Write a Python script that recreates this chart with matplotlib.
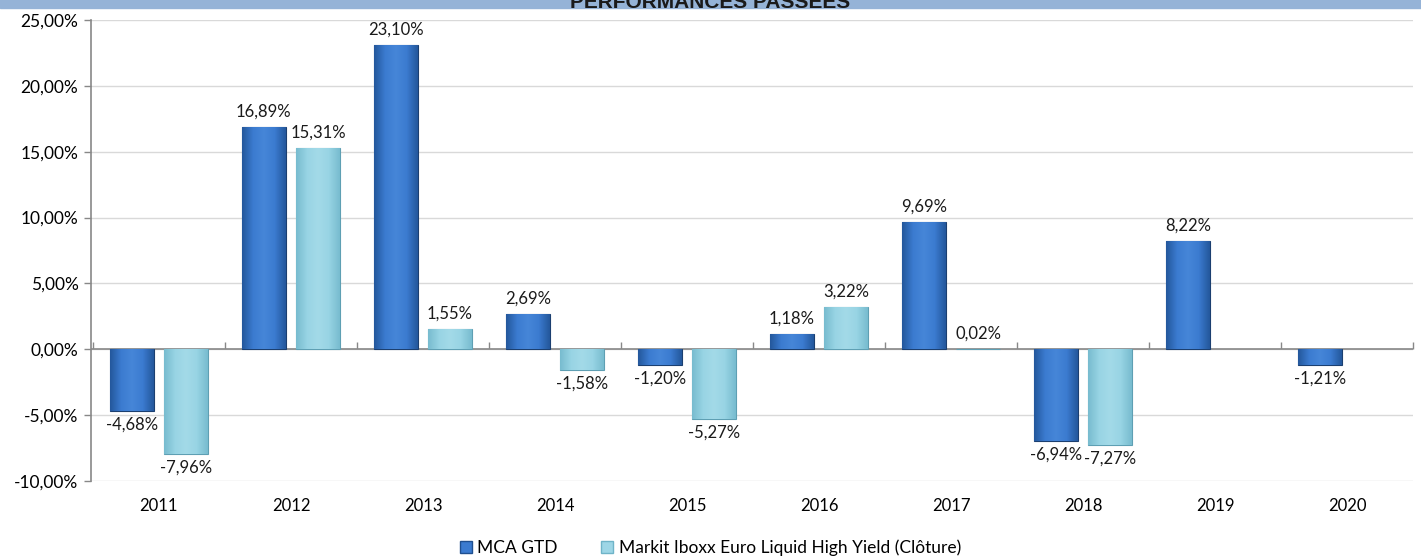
import numpy as np
import matplotlib
matplotlib.use('Agg')
import matplotlib.pyplot as plt
from matplotlib.colors import LinearSegmentedColormap
from matplotlib.patches import Rectangle

plt.rcParams['font.family'] = ['Lato', 'DejaVu Sans']

years = ['2011', '2012', '2013', '2014', '2015', '2016', '2017', '2018', '2019', '2020']
mca_gtd = [-4.68, 16.89, 23.10, 2.69, -1.20, 1.18, 9.69, -6.94, 8.22, -1.21]
markit = [-7.96, 15.31, 1.55, -1.58, -5.27, 3.22, 0.02, -7.27, None, None]
names = ['MCA GTD', 'Markit Iboxx Euro Liquid High Yield (Clôture)']
yticks = [-10, -5, 0, 5, 10, 15, 20, 25]

def fmt(v):
    return ('%.2f' % v).replace('.', ',') + '%'

fig = plt.figure(figsize=(14.21, 5.58), dpi=100)
ax = fig.add_axes([0.064, 0.138, 0.9305, 0.8262])

# title band, cut at the top of the picture
fig.patches.append(Rectangle((0, 0.986), 1, 0.02, transform=fig.transFigure,
                             color='#95B3D7', zorder=0))
fig.text(0.5, 0.995, 'PERFORMANCES PASSEES', ha='center', va='center',
         fontsize=15, fontweight='bold', color='#1a1a1a', family='Liberation Sans')

x = np.arange(len(years))
w = 0.333
off = 0.205
cm_dark = LinearSegmentedColormap.from_list('d', ['#24589c', '#3b7bd0', '#4686d8', '#3b7bd0', '#24589c'])
cm_light = LinearSegmentedColormap.from_list('l', ['#78bccf', '#98d4e4', '#a3dae8', '#98d4e4', '#78bccf'])

series = [(mca_gtd, -off, cm_dark, '#2a5fa5', '#1b3f70'),
          (markit, off, cm_light, '#9dd6e6', '#5e9fb3')]
grad = np.linspace(0, 1, 64).reshape(1, -1)
for vals, dx, cmap, fc, ec in series:
    v = [np.nan if a is None else a for a in vals]
    bars = ax.bar(x + dx, v, w, color=fc, edgecolor=ec, linewidth=0.8, zorder=3)
    for b, val in zip(bars, v):
        if np.isnan(val):
            continue
        x0, y0 = b.get_x(), b.get_y()
        bw, bh = b.get_width(), b.get_height()
        im = ax.imshow(grad, cmap=cmap, aspect='auto', zorder=3.5,
                       extent=[x0, x0 + bw, min(y0, y0 + bh), max(y0, y0 + bh)])
        im.set_clip_path(b)
        if val >= 0:
            ax.annotate(fmt(val), (x0 + bw / 2, val), xytext=(0, 5), textcoords='offset points',
                        ha='center', va='bottom', fontsize=12, color='#1a1a1a')
        else:
            ax.annotate(fmt(val), (x0 + bw / 2, val), xytext=(0, -4), textcoords='offset points',
                        ha='center', va='top', fontsize=12, color='#1a1a1a')

ax.set_xlim(-0.515, 9.5)
ax.set_ylim(-10, 25)
ax.set_yticks(yticks)
ax.set_yticklabels([fmt(t) for t in yticks], fontsize=12.5)
ax.grid(axis='y', color='#d9d9d9', linewidth=1, zorder=0)
ax.set_xticks(x)
ax.set_xticklabels(years, fontsize=12)
ax.tick_params(axis='x', length=0, pad=12)
ax.tick_params(axis='y', length=5, color='#888888', width=1, pad=4)
for s in ['top', 'right', 'bottom']:
    ax.spines[s].set_visible(False)
ax.spines['left'].set_color('#888888')
ax.spines['left'].set_linewidth(1.2)

# category axis drawn at zero
ax.axhline(0, color='#888888', linewidth=1.2, zorder=2)
sec = ax.secondary_xaxis(10 / 35)
sec.set_xticks(np.arange(len(years) + 1) - 0.5)
sec.set_xticklabels([])
sec.tick_params(length=5, direction='in', color='#888888', width=1)
sec.spines['bottom'].set_visible(False)

h1 = Rectangle((0, 0), 1, 1, facecolor='#3b7bd0', edgecolor='#1f4f8f')
h2 = Rectangle((0, 0), 1, 1, facecolor='#9dd6e6', edgecolor='#6fb4c8')
fig.legend([h1, h2], names, loc='center', bbox_to_anchor=(0.5, 0.018), ncol=2,
           frameon=False, fontsize=12.5, handlelength=0.7, handleheight=0.7,
           handletextpad=0.3, columnspacing=2.5)

fig.savefig('out.png', dpi=100)
